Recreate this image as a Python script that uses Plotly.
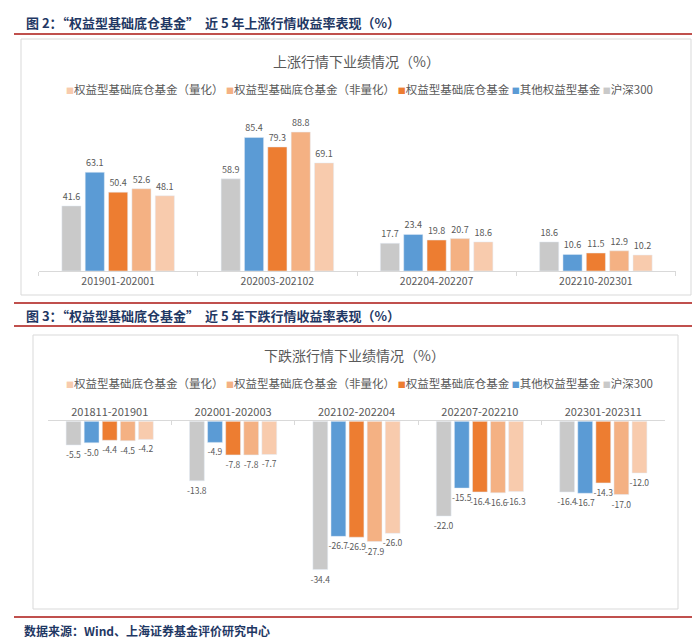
import plotly.graph_objects as go

W, H = 700, 638

# ---------------- data ----------------
series_names = ["沪深300", "其他权益型基金", "权益型基础底仓基金",
                "权益型基础底仓基金（非量化）", "权益型基础底仓基金（量化）"]
series_colors = ["#C9C9C9", "#5B9BD5", "#ED7D31", "#F4B183", "#F8CBAD"]

up_categories = ["201901-202001", "202003-202102", "202204-202207", "202210-202301"]
up_hs300 = [41.6, 58.9, 17.7, 18.6]
up_other = [63.1, 85.4, 23.4, 10.6]
up_base = [50.4, 79.3, 19.8, 11.5]
up_nonquant = [52.6, 88.8, 20.7, 12.9]
up_quant = [48.1, 69.1, 18.6, 10.2]

down_categories = ["201811-201901", "202001-202003", "202102-202204",
                   "202207-202210", "202301-202311"]
down_hs300 = [-5.5, -13.8, -34.4, -22.0, -16.4]
down_other = [-5.0, -4.9, -26.7, -15.5, -16.7]
down_base = [-4.4, -7.8, -26.9, -16.4, -14.3]
down_nonquant = [-4.5, -7.8, -27.9, -16.6, -17.0]
down_quant = [-4.2, -7.7, -26.0, -16.3, -12.0]

up_values = [up_hs300, up_other, up_base, up_nonquant, up_quant]
down_values = [down_hs300, down_other, down_base, down_nonquant, down_quant]

FONT = "Noto Sans CJK SC"
GREY_TXT = "#595959"
NAVY = "#1F3864"
RED = "#C0504D"


def px(x):
    return x / W


def py(y):
    return 1 - y / H


fig = go.Figure()

for name, color, vals in zip(series_names, series_colors, up_values):
    fig.add_trace(go.Bar(
        x=up_categories, y=vals, name=name, marker_color=color,
        text=[f"{v:.1f}" for v in vals], textposition="outside",
        textfont=dict(size=9, color=GREY_TXT, family=FONT),
        constraintext="none", cliponaxis=False,
        xaxis="x", yaxis="y", showlegend=False))

for name, color, vals in zip(series_names, series_colors, down_values):
    fig.add_trace(go.Bar(
        x=down_categories, y=vals, name=name, marker_color=color,
        text=[f"{v:.1f}" for v in vals], textposition="outside",
        textfont=dict(size=8.5, color=GREY_TXT, family=FONT),
        constraintext="none", cliponaxis=False,
        xaxis="x2", yaxis="y2", showlegend=False))

fig.update_layout(
    width=W, height=H,
    margin=dict(l=0, r=0, t=0, b=0),
    paper_bgcolor="white", plot_bgcolor="rgba(0,0,0,0)",
    barmode="group", bargap=0.267, bargroupgap=0.18,
    font=dict(family=FONT, color=GREY_TXT),
    xaxis=dict(domain=[px(30.5), px(667.5)], anchor="y",
               showline=True, linecolor="#D9D9D9", linewidth=1,
               ticks="outside", tickson="boundaries", ticklen=4, tickcolor="#D9D9D9",
               tickfont=dict(size=10.5, color=GREY_TXT, family=FONT),
               showgrid=False, zeroline=False, fixedrange=True),
    yaxis=dict(domain=[py(263), py(100)], range=[0, 104.2], anchor="x",
               visible=False, showgrid=False, zeroline=False, fixedrange=True),
    xaxis2=dict(domain=[px(40), px(657)], anchor="y2", side="top",
                showline=True, linecolor="#D9D9D9", linewidth=1,
                ticks="inside", tickson="boundaries", ticklen=4, tickcolor="#D9D9D9",
                tickfont=dict(size=11, color=GREY_TXT, family=FONT),
                showgrid=False, zeroline=False, fixedrange=True),
    yaxis2=dict(domain=[py(590), py(413.3)], range=[-41.0, 0], anchor="x2",
                visible=False, showgrid=False, zeroline=False, fixedrange=True),
)

# frames and red rules
shapes = [
    dict(type="rect", xref="paper", yref="paper", x0=px(13), x1=px(683), y0=py(287), y1=py(31),
         line=dict(color="#D9D9D9", width=1), fillcolor="rgba(0,0,0,0)", layer="below"),
    dict(type="rect", xref="paper", yref="paper", x0=px(25), x1=px(670), y0=py(601), y1=py(327),
         line=dict(color="#D9D9D9", width=1), fillcolor="rgba(0,0,0,0)", layer="below"),
]
for yl in [26, 295, 318, 609]:
    shapes.append(dict(type="line", xref="paper", yref="paper", x0=px(6), x1=px(692),
                       y0=py(yl), y1=py(yl), line=dict(color=RED, width=2)))
fig.update_layout(shapes=shapes)


def legend_text():
    parts = []
    for name, color in zip(series_names[::-1], series_colors[::-1]):
        parts.append(f'<span style="color:{color};font-size:8px">■</span>{name}')
    return " ".join(parts)


annotations = [
    dict(text="<b>图 2：“权益型基础底仓基金”  近 5 年上涨行情收益率表现（%）</b>",
         x=px(16), y=py(15), xanchor="left", yanchor="middle",
         font=dict(size=13, color=NAVY, family=FONT)),
    dict(text="<b>图 3：“权益型基础底仓基金”  近 5 年下跌行情收益率表现（%）</b>",
         x=px(16), y=py(307), xanchor="left", yanchor="middle",
         font=dict(size=13, color=NAVY, family=FONT)),
    dict(text="<b>数据来源：Wind、上海证券基金评价研究中心</b>",
         x=px(14), y=py(622), xanchor="left", yanchor="middle",
         font=dict(size=12, color=NAVY, family=FONT)),
    dict(text="上涨行情下业绩情况（%）", x=px(348), y=py(53), xanchor="center", yanchor="middle",
         font=dict(size=14, color=GREY_TXT, family=FONT)),
    dict(text="下跌涨行情下业绩情况（%）", x=px(346), y=py(347), xanchor="center", yanchor="middle",
         font=dict(size=14, color=GREY_TXT, family=FONT)),
    dict(text=legend_text(), x=px(351), y=py(81), xanchor="center", yanchor="middle",
         font=dict(size=11.5, color=GREY_TXT, family=FONT)),
    dict(text=legend_text(), x=px(351), y=py(375), xanchor="center", yanchor="middle",
         font=dict(size=11.5, color=GREY_TXT, family=FONT)),
]
for a in annotations:
    a.update(xref="paper", yref="paper", showarrow=False)
fig.update_layout(annotations=annotations)

fig.write_html("out.html")
